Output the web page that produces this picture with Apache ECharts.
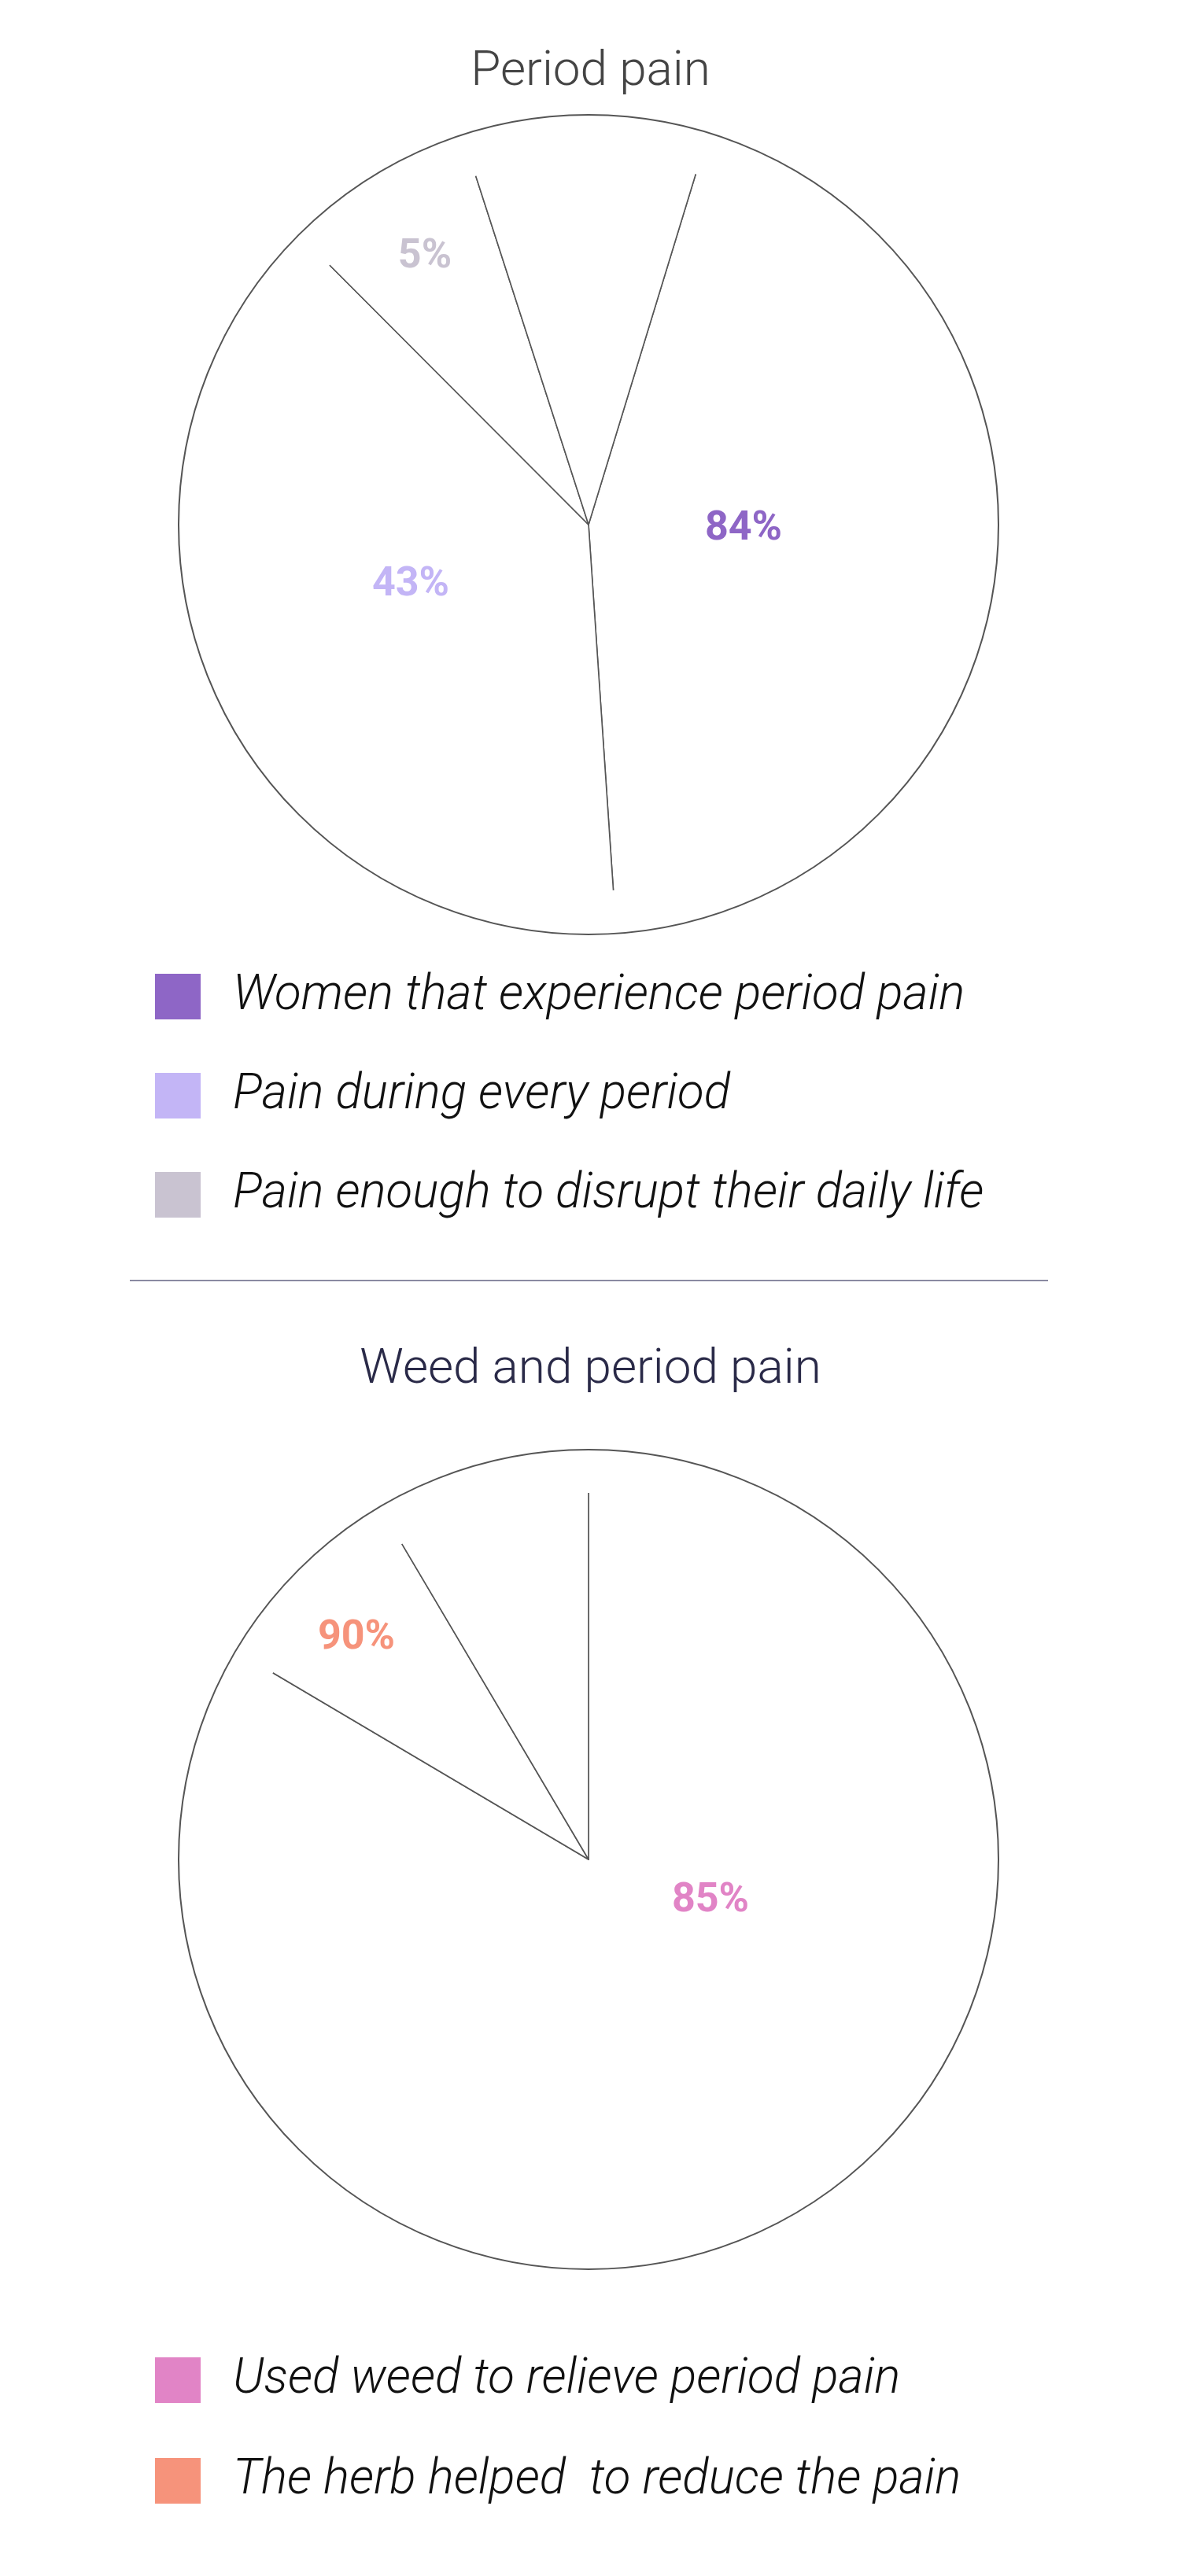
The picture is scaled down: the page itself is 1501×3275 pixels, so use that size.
<!DOCTYPE html>
<html>
<head>
<meta charset="utf-8">
<script src="https://cdn.jsdelivr.net/npm/echarts@6/dist/echarts.min.js"></script>
<style>
html,body{margin:0;padding:0;background:#fff;}
#chart{width:1501px;height:3275px;}
</style>
</head>
<body>
<div id="chart"></div>
<script>
// pie 1 : period pain
var painNames  = ['Women that experience period pain', 'Pain during every period', 'Pain enough to disrupt their daily life', 'rest'];
var painShares = [44.2, 38.6, 7.5, 9.7];          // slice sizes as drawn
var painLabels = ['84%', '43%', '5%', ''];
var painColors = ['#8e66c6', '#c3b5f6', '#c9c3d1', '#ffffff'];

// pie 2 : weed and period pain
var weedNames  = ['Used weed to relieve period pain', 'The herb helped  to reduce the pain', 'rest'];
var weedShares = [83.5, 8.0, 8.5];
var weedLabels = ['85%', '90%', ''];
var weedColors = ['#e184c6', '#f6937b', '#ffffff'];

var chart = echarts.init(document.getElementById('chart'));

function slices(names, shares) {
	var out = [];
	for (var i = 0; i < names.length; i++)
		out.push({ name: names[i], value: shares[i] });
	return out;
}

function legendData(names, colors) {
	var out = [];
	for (var i = 0; i < names.length; i++) {
		if (names[i] == 'rest') continue;
		out.push({ name: names[i], itemStyle: { color: colors[i], borderWidth: 0 } });
	}
	return out;
}

// pie with thin radial lines, outer circle drawn by a separate ring
function pieSet(center, names, shares, startAngle) {
	return [
		{
			type: 'pie', silent: true, center: center, radius: 521, z: 1,
			label: { show: false }, labelLine: { show: false },
			itemStyle: { color: '#fff', borderColor: '#555', borderWidth: 2 },
			data: [{ value: 1, name: '__outer' }]
		},
		{
			type: 'pie', silent: true, center: center, radius: [0, 470], z: 2,
			startAngle: startAngle, clockwise: true,
			label: { show: false }, labelLine: { show: false },
			itemStyle: { color: '#fff', borderColor: '#555', borderWidth: 1.6 },
			data: slices(names, shares)
		},
		{
			// hides the arc of the inner pie
			type: 'pie', silent: true, center: center, radius: [466, 474], z: 3,
			label: { show: false }, labelLine: { show: false },
			itemStyle: { color: '#fff' },
			data: [{ value: 1, name: '__mask' }]
		}
	];
}

function labelText(x, y, text, color) {
	return {
		type: 'text', x: x, y: y, z: 100,
		style: { text: text, fill: color, font: 'bold 52px Roboto', align: 'center', verticalAlign: 'middle' }
	};
}

var legendText = { fontFamily: 'Roboto', fontSize: 62, fontStyle: 'italic', fontWeight: 300, color: '#111', padding: [0, 0, 0, 36] };

var option = {
	backgroundColor: '#fff',
	animation: false,
	title: [
		{ text: 'Period pain', left: 'center', top: 56,
		  textStyle: { fontFamily: 'Roboto', fontWeight: 300, fontSize: 62, color: '#444' } },
		{ text: 'Weed and period pain', left: 'center', top: 1706,
		  textStyle: { fontFamily: 'Roboto', fontWeight: 300, fontSize: 62, color: '#2a2a48' } }
	],
	legend: [
		{
			orient: 'vertical', left: 192, top: 1231, itemWidth: 58, itemHeight: 58, itemGap: 64,
			icon: 'rect', selectedMode: false, textStyle: legendText,
			data: legendData(painNames, painColors)
		},
		{
			orient: 'vertical', left: 192, top: 2990, itemWidth: 58, itemHeight: 58, itemGap: 66,
			icon: 'rect', selectedMode: false, textStyle: legendText,
			data: legendData(weedNames, weedColors)
		}
	],
	series: pieSet([748, 667], painNames, painShares, 73)
		.concat(pieSet([748, 2364], weedNames, weedShares, 90)),
	graphic: [
		{ type: 'line', z: 100, shape: { x1: 165, y1: 1628, x2: 1332, y2: 1628 },
		  style: { stroke: '#8a8aa2', lineWidth: 2 } },
		labelText(945, 673, painLabels[0], painColors[0]),
		labelText(522, 744, painLabels[1], painColors[1]),
		labelText(540, 327, painLabels[2], painColors[2]),
		labelText(903, 2417, weedLabels[0], weedColors[0]),
		labelText(453, 2083, weedLabels[1], weedColors[1])
	]
};

chart.setOption(option);
</script>
</body>
</html>
